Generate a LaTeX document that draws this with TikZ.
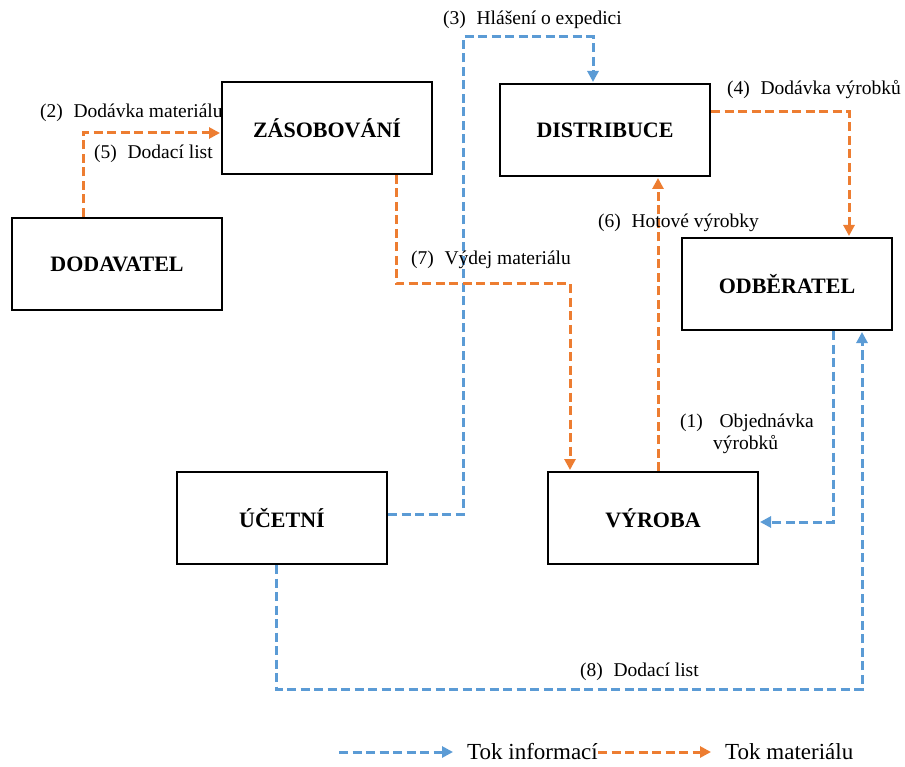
\documentclass[tikz,border=0pt]{standalone}
\usepackage{fontspec}
\setmainfont{Liberation Serif}
\usetikzlibrary{arrows.meta,calc}
\definecolor{infoblue}{HTML}{5B9BD5}
\definecolor{matorange}{HTML}{ED7D31}
\tikzset{
  box/.style={draw=black,line width=2pt,minimum width=210pt,minimum height=92pt,inner sep=0pt,
    font=\fontsize{22}{24}\selectfont\bfseries},
  lbl/.style={anchor=base west,inner sep=0pt,font=\fontsize{19.5}{22}\selectfont},
  leg/.style={anchor=west,inner sep=0pt,font=\fontsize{23}{26}\selectfont},
  flow/.style={line width=3pt,dash pattern=on 9pt off 4.5pt,-{Triangle[length=11pt,width=11pt]},shorten >=1pt},
  info/.style={flow,draw=infoblue},
  mat/.style={flow,draw=matorange},
}
\begin{document}
\begin{tikzpicture}[x=1pt,y=-1pt]
\useasboundingbox (0,0) rectangle (905,767);
% boxes
\node[box] (zas) at (327,128) {ZÁSOBOVÁNÍ};
\node[box] (dis) at (605,130) {DISTRIBUCE};
\node[box] (dod) at (117,264) {DODAVATEL};
\node[box] (odb) at (787,284) {ODBĚRATEL};
\node[box] (uc)  at (282,518) {ÚČETNÍ};
\node[box] (vyr) at (653,518) {VÝROBA};
% bend points
\coordinate (c2) at (83,133);
\coordinate (c3a) at (463,37);
\coordinate (c3b) at (593,37);
\coordinate (c3s) at (0,514);
\coordinate (c4) at (849,112);
\coordinate (c6) at (658,0);
\coordinate (c7a) at (396,284);
\coordinate (c7b) at (570,284);
\coordinate (c1) at (833,522);
\coordinate (c8a) at (276,689);
\coordinate (c8b) at (862,689);
% connectors
\draw[mat] (c2 |- dod.north) -- (c2) -- (c2 -| zas.west);
\draw[info] (c3s -| uc.east) -- (c3s -| c3a) -- (c3a) -- (c3b) -- (c3b |- dis.north);
\draw[mat] (c4 -| dis.east) -- (c4) -- (c4 |- odb.north);
\draw[mat] (c6 |- vyr.north) -- (c6 |- dis.south);
\draw[mat] (c7a |- zas.south) -- (c7a) -- (c7b) -- (c7b |- vyr.north);
\draw[info] (c1 |- odb.south) -- (c1) -- (c1 -| vyr.east);
\draw[info] (c8a |- uc.south) -- (c8a) -- (c8b) -- (c8b |- odb.south);
% labels
\node[lbl] (l2) at (40,118) {(2)\hspace{0.55em}Dodávka materiálu};
\node[lbl] (l5) at (94,159) {(5)\hspace{0.55em}Dodací list};
\node[lbl] (l3) at (443,25) {(3)\hspace{0.55em}Hlášení o expedici};
\node[lbl] (l4) at (727,95) {(4)\hspace{0.55em}Dodávka výrobků};
\node[lbl] (l6) at (598,228) {(6)\hspace{0.55em}Hotové výrobky};
\node[lbl] (l7) at (411,265) {(7)\hspace{0.55em}Výdej materiálu};
\node[lbl] (l1) at (680,427) {(1)\hspace{0.85em}Objednávka};
\node[lbl] (l1b) at (713,449) {výrobků};
\node[lbl] (l8) at (580,676) {(8)\hspace{0.55em}Dodací list};
% legend
\coordinate (lgs) at (339,752);
\coordinate (lge) at (712,752);
\node[leg] (li) at (467,752) {Tok informací};
\node[leg] (lm) at (725,752) {Tok materiálu};
\draw[info] (lgs) -- ($(li.west)+(-13,0)$);
\draw[mat] (li.east) -- (lge);
\end{tikzpicture}
\end{document}
